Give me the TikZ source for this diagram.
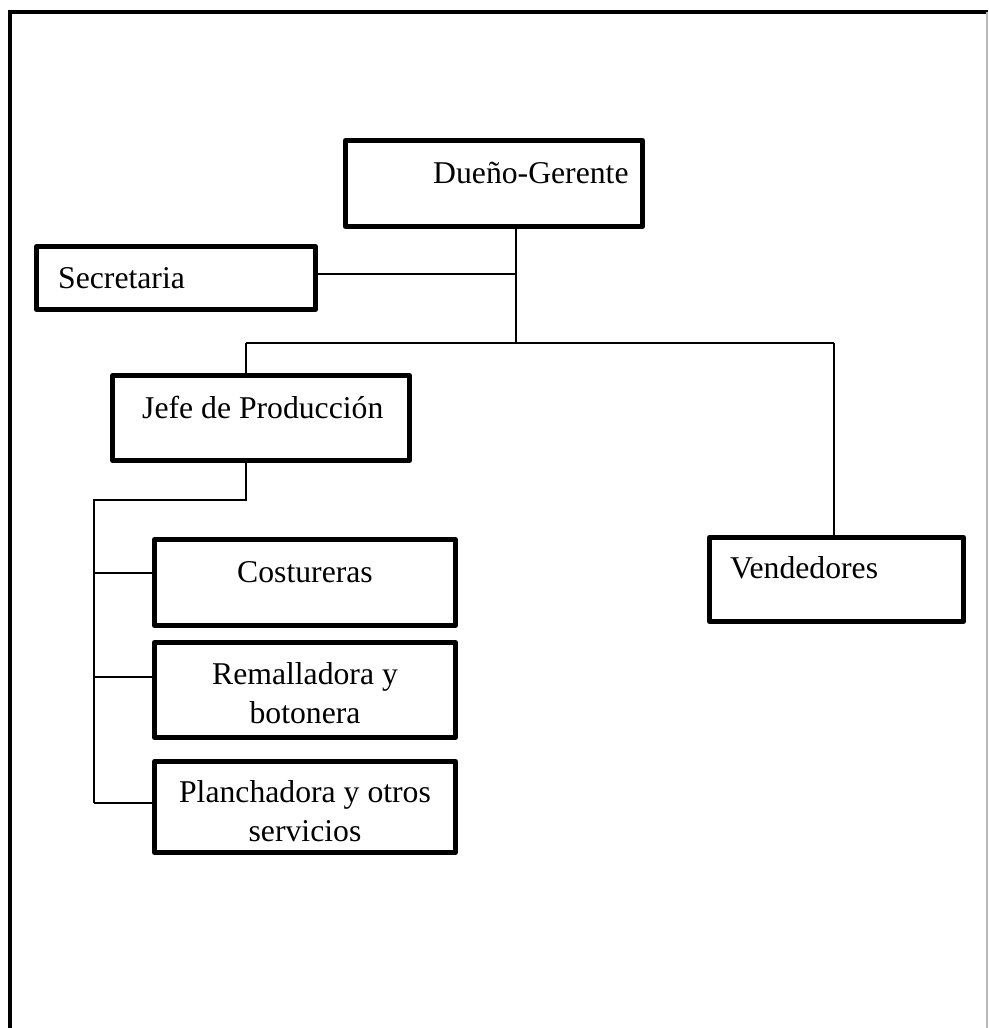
\documentclass[tikz,border=0pt]{standalone}
\usepackage{fontspec}
\setmainfont{Liberation Serif}
\begin{document}
\begin{tikzpicture}[x=1pt,y=-1pt,
  box/.style={draw=black,line width=5pt,line join=round,inner sep=0pt,fill=white},
  txt/.style={inner sep=0pt,font=\fontsize{31.7}{38.5}\selectfont},
  conn/.style={draw=black,line width=1.5pt}]
\useasboundingbox (0,0) rectangle (988,1028);
% frame
\draw[line width=4pt,line join=miter] (10,1028) -- (10,12) -- (988,12);
\draw[gray!55,line width=1.5pt] (987,12) -- (987,1028);
% boxes
\node[box,minimum width=297pt,minimum height=86pt] (d) at (494,183.5) {};
\node[box,minimum width=279pt,minimum height=63pt] (s) at (176,278) {};
\node[box,minimum width=297pt,minimum height=85pt] (j) at (261,418) {};
\node[box,minimum width=301pt,minimum height=86pt] (c) at (305,582.5) {};
\node[box,minimum width=301pt,minimum height=95pt] (r) at (305,690) {};
\node[box,minimum width=301pt,minimum height=91pt] (p) at (305,807) {};
\node[box,minimum width=254pt,minimum height=84pt] (vd) at (836.5,579.5) {};
% texts
\node[txt,anchor=base west] (td) at (433,183) {Dueño-Gerente};
\node[txt,anchor=base west] (ts) at (58,288) {Secretaria};
\node[txt,anchor=base west] (tj) at (142,418) {Jefe de Producción};
\node[txt,anchor=base] (tc) at (305,582) {Costureras};
\node[txt,anchor=north,align=center] (tr) at (305,662.4) {Remalladora y\\botonera};
\node[txt,anchor=north,align=center] (tp) at (305,780.4) {Planchadora y otros\\servicios};
\node[txt,anchor=base west] (tv) at (730,578) {Vendedores};
% connector points
\coordinate (v) at (516,343);
\coordinate (sj) at (516,274);
\coordinate (bl) at (246,343);
\coordinate (br) at (834,343);
\coordinate (jb) at (246,500);
\coordinate (lb) at (94,500);
\coordinate (lc) at (94,573);
\coordinate (lr) at (94,677);
\coordinate (lp) at (94,803);
% connectors
\draw[conn] (d.south -| v) -- (v);
\draw[conn] (s.east |- sj) -- (sj);
\draw[conn] (bl) -- (br);
\draw[conn] (bl) -- (j.north -| bl);
\draw[conn] (br) -- (vd.north -| br);
\draw[conn] (j.south -| jb) -- (jb) -- (lb) -- (lp);
\draw[conn] (lc) -- (c.west |- lc);
\draw[conn] (lr) -- (r.west |- lr);
\draw[conn] (lp) -- (p.west |- lp);
\end{tikzpicture}
\end{document}
